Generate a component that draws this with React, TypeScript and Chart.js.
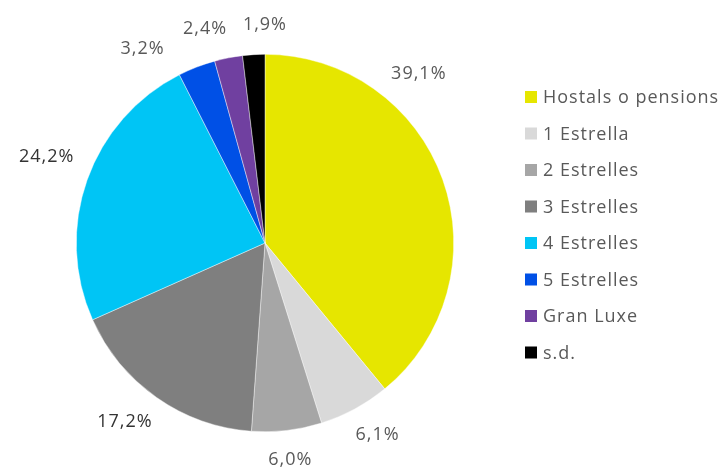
import { useEffect, useRef } from "react";
import { Chart, registerables } from "chart.js";

Chart.register(...registerables);

const categories = [
  "Hostals o pensions",
  "1 Estrella",
  "2 Estrelles",
  "3 Estrelles",
  "4 Estrelles",
  "5 Estrelles",
  "Gran Luxe",
  "s.d.",
];
const shares = [39.1, 6.1, 6.0, 17.2, 24.2, 3.2, 2.4, 1.9];
const valueLabels = ["39,1%", "6,1%", "6,0%", "17,2%", "24,2%", "3,2%", "2,4%", "1,9%"];
const sliceColors = [
  "#E6E600",
  "#D9D9D9",
  "#A6A6A6",
  "#7F7F7F",
  "#00C5F5",
  "#0050E6",
  "#7040A0",
  "#000000",
];

const FONT = "'Open Sans', 'DejaVu Sans', sans-serif";

const outLabelsPlugin = {
  id: "outLabels",
  afterDatasetsDraw(chart: any, _args: any, opts: any) {
    const ctx = chart.ctx;
    const meta = chart.getDatasetMeta(0);
    ctx.save();
    ctx.font = `${opts.size}px ${FONT}`;
    (ctx as any).letterSpacing = opts.spacing;
    ctx.textAlign = "center";
    ctx.textBaseline = "middle";
    meta.data.forEach((arc: any, i: number) => {
      const p = arc.getProps(["x", "y", "startAngle", "endAngle", "outerRadius"], true);
      const mid = (p.startAngle + p.endAngle) / 2 + ((opts.angleShift[i] || 0) * Math.PI) / 180;
      const text = valueLabels[i];
      const w = ctx.measureText(text).width;
      const h = opts.size;
      const cx = Math.cos(mid);
      const sy = Math.sin(mid);
      const D =
        p.outerRadius + opts.pad + (opts.extraPad[i] || 0) +
        Math.sqrt((cx * w / 2) ** 2 + (sy * h / 2) ** 2);
      ctx.fillStyle = opts.colors[i];
      ctx.fillText(text, p.x + cx * D, p.y + sy * D);
    });
    ctx.restore();
  },
};

const sideLegendPlugin = {
  id: "sideLegend",
  afterDraw(chart: any, _args: any, opts: any) {
    const ctx = chart.ctx;
    ctx.save();
    ctx.font = `${opts.size}px ${FONT}`;
    (ctx as any).letterSpacing = opts.spacing;
    ctx.textAlign = "left";
    ctx.textBaseline = "middle";
    const labels: string[] = chart.data.labels;
    const colors: string[] = chart.data.datasets[0].backgroundColor;
    labels.forEach((lab, i) => {
      const y = opts.top + i * opts.gap;
      ctx.fillStyle = colors[i];
      ctx.fillRect(opts.left, y - opts.box / 2, opts.box, opts.box);
      ctx.fillStyle = opts.color;
      ctx.fillText(lab, opts.left + opts.box + opts.textGap, y + 1);
    });
    ctx.restore();
  },
};

export default function App() {
  const ref = useRef<HTMLCanvasElement | null>(null);
  useEffect(() => {
    if (!ref.current) return;
    const chart = new Chart(ref.current, {
      type: "pie",
      data: {
        labels: categories,
        datasets: [
          {
            data: shares,
            backgroundColor: sliceColors,
            borderColor: "rgba(255,255,255,0.7)",
            borderWidth: 0.6,
          },
        ],
      },
      options: {
        responsive: false,
        animation: false,
        layout: { padding: { left: 76, top: 54, right: 272, bottom: 38 } },
        plugins: {
          legend: { display: false },
          tooltip: { enabled: false },
          outLabels: {
            size: 18,
            spacing: "1px",
            pad: 20,
            angleShift: [-28, -2, 0, 3, 2, -11, -4.5, 3.4],
            extraPad: [0, 0, 0, 0, 0, 7, 3, 0],
            colors: ["#595959", "#595959", "#595959", "#333333", "#333333", "#595959", "#595959", "#595959"],
          },
          sideLegend: {
            left: 525,
            top: 97,
            gap: 36.5,
            box: 12,
            textGap: 6,
            size: 18,
            spacing: "1px",
            color: "#595959",
          },
        } as any,
      },
      plugins: [outLabelsPlugin, sideLegendPlugin],
    });
    return () => chart.destroy();
  }, []);
  return (
    <div style={{ position: "absolute", left: 0, top: 0, width: 726, height: 470, background: "#fff" }}>
      <canvas ref={ref} width={726} height={470} />
    </div>
  );
}
